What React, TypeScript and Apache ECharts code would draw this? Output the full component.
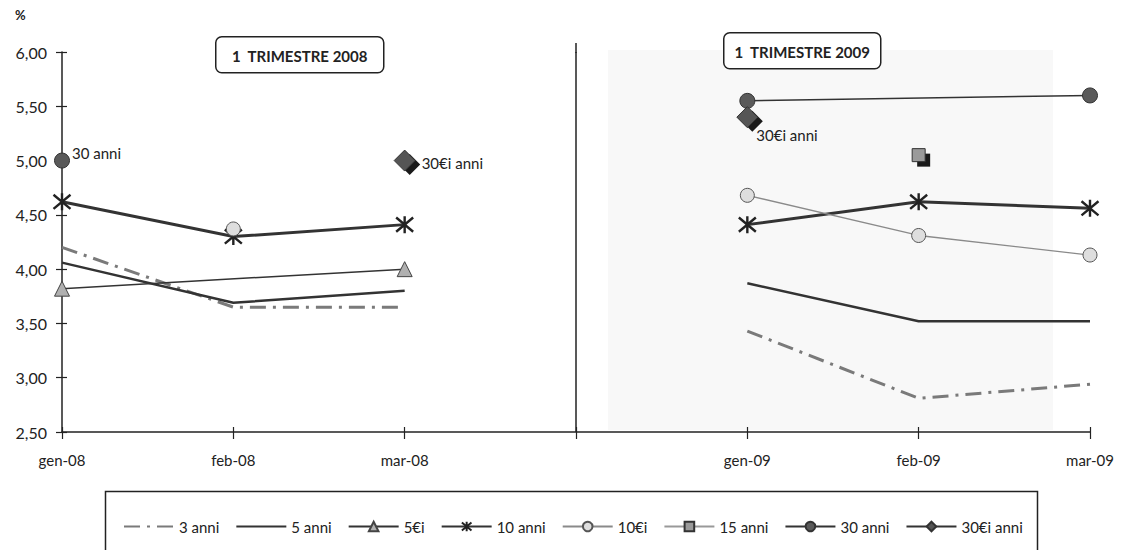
import React, { useEffect, useRef } from "react";
import * as echarts from "echarts";

const categories = ["gen-08", "feb-08", "mar-08", "", "gen-09", "feb-09", "mar-09"];
const yTicks = [2.5, 3, 3.5, 4, 4.5, 5, 5.5, 6];

const anni3_2008 = [4.2, 3.65, 3.65];
const anni3_2009 = [3.43, 2.81, 2.94];
const anni5_2008 = [4.06, 3.69, 3.8];
const anni5_2009 = [3.87, 3.52, 3.52];
const e5_2008 = [3.82, null, 4.0];
const e5_2009 = [null, null, null];
const anni10_2008 = [4.62, 4.3, 4.41];
const anni10_2009 = [4.41, 4.62, 4.56];
const e10_2008 = [null, 4.37, null];
const e10_2009 = [4.68, 4.31, 4.13];
const anni15_2008 = [null, null, null];
const anni15_2009 = [null, 5.05, null];
const anni30_2008 = [5.0, null, null];
const anni30_2009 = [5.55, null, 5.6];
const e30_2008 = [null, null, 5.0];
const e30_2009 = [5.4, null, null];

const legendNames = ["3 anni", "5 anni", "5€i", "10 anni", "10€i", "15 anni", "30 anni", "30€i anni"];

const FONT = "Lato, 'Open Sans', sans-serif";
const ASTERISK = "path://M0,0L10,10M10,0L0,10M5,-1L5,11";

function full(a: (number | null)[], b: (number | null)[]) {
  return [...a, null, ...b];
}
function only2008(a: (number | null)[]) {
  return [...a, null, null, null, null];
}
function only2009(b: (number | null)[]) {
  return [null, null, null, null, ...b];
}

export default function App() {
  const ref = useRef<HTMLDivElement>(null);
  useEffect(() => {
    if (!ref.current) return;
    const chart = echarts.init(ref.current, undefined, { renderer: "svg" });

    const mk = (name: string, data: any[], extra: any) => ({
      name,
      type: "line",
      data,
      connectNulls: true,
      z: 3,
      ...extra,
    });

    const s3 = {
      symbol: "circle",
      showSymbol: false,
      lineStyle: { color: "#7a7a7a", width: 3, type: [16, 7, 3, 7] },
      itemStyle: { color: "rgba(0,0,0,0)", borderWidth: 0 },
    };
    const s5 = {
      symbol: "circle",
      showSymbol: false,
      lineStyle: { color: "#333", width: 2.5 },
      itemStyle: { color: "rgba(0,0,0,0)", borderWidth: 0 },
    };
    const se5 = {
      symbol: "triangle",
      symbolSize: 15,
      lineStyle: { color: "#333", width: 1.5 },
      itemStyle: { color: "#b0b0b0", borderColor: "#444", borderWidth: 1 },
    };
    const s10 = {
      symbol: ASTERISK,
      symbolSize: 17,
      lineStyle: { color: "#333", width: 3 },
      itemStyle: { color: "#333", borderColor: "#222", borderWidth: 2.4 },
    };
    const se10 = {
      symbol: "circle",
      symbolSize: 14,
      lineStyle: { color: "#8a8a8a", width: 1.3 },
      itemStyle: { color: "#dedede", borderColor: "#555", borderWidth: 1 },
    };
    const s15 = {
      symbol: "rect",
      symbolSize: 13,
      z: 4,
      lineStyle: { color: "#999", width: 2.5 },
      itemStyle: { color: "#9a9a9a", borderColor: "#333", borderWidth: 1 },
    };
    const s30 = {
      symbol: "circle",
      symbolSize: 15,
      lineStyle: { color: "#333", width: 1.5 },
      itemStyle: { color: "#5a5a5a", borderColor: "#333", borderWidth: 1 },
    };
    const se30 = {
      symbol: "diamond",
      symbolSize: 21,
      z: 4,
      lineStyle: { color: "#333", width: 1.5 },
      itemStyle: { color: "#555", borderColor: "#333", borderWidth: 1 },
    };
    const shadow = (data: any[], size: number, symbol: string, off: number[]) => ({
      name: "ombra",
      type: "line",
      data,
      connectNulls: false,
      symbol,
      symbolSize: size,
      symbolOffset: off,
      showAllSymbol: true,
      z: 2,
      lineStyle: { width: 0, opacity: 0 },
      itemStyle: { color: "#1a1a1a" },
      silent: true,
    });

    const labelStyle = { fontFamily: FONT, fontSize: 15, color: "#222" };

    const anni30Data = only2008(anni30_2008).map((v, i) =>
      i === 0 && v !== null
        ? { value: v, label: { show: true, position: "right", distance: 2, offset: [0, -8], formatter: "30 anni", ...labelStyle } }
        : v
    );
    const e30Data2008 = only2008(e30_2008).map((v, i) =>
      i === 2 && v !== null
        ? { value: v, label: { show: true, position: "right", distance: 6, offset: [0, 2], formatter: "30€i anni", ...labelStyle } }
        : v
    );
    const e30Data2009 = only2009(e30_2009).map((v, i) =>
      i === 4 && v !== null
        ? { value: v, label: { show: true, position: "right", distance: 2, offset: [-4, 18], formatter: "30€i anni", ...labelStyle } }
        : v
    );

    const divider = {
      silent: true,
      symbol: ["none", "none"],
      label: { show: false },
      lineStyle: { color: "#222", width: 1.5, type: "solid" },
      data: [{ xAxis: 3 }],
    };

    const series: any[] = [
      { ...mk("3 anni", only2008(anni3_2008), s3), markLine: divider },
      mk("3 anni", only2009(anni3_2009), s3),
      mk("5 anni", only2008(anni5_2008), s5),
      mk("5 anni", only2009(anni5_2009), s5),
      mk("5€i", only2008(e5_2008), se5),
      mk("5€i", only2009(e5_2009), se5),
      mk("10 anni", only2008(anni10_2008), s10),
      mk("10 anni", only2009(anni10_2009), s10),
      mk("10€i", only2008(e10_2008), se10),
      mk("10€i", only2009(e10_2009), se10),
      shadow(full(anni15_2008, anni15_2009), 13, "rect", [5, 5]),
      mk("15 anni", only2008(anni15_2008), s15),
      mk("15 anni", only2009(anni15_2009), s15),
      mk("30 anni", anni30Data, s30),
      mk("30 anni", only2009(anni30_2009), s30),
      shadow(full(e30_2008, e30_2009), 21, "diamond", [5, 4]),
      mk("30€i anni", e30Data2008, se30),
      mk("30€i anni", e30Data2009, se30),
    ];

    const option: any = {
      animation: false,
      backgroundColor: "#ffffff",
      textStyle: { fontFamily: FONT },
      grid: { left: 62, right: 31, top: 52, bottom: 118, containLabel: false },
      legend: {
        data: legendNames,
        left: 118,
        top: 514,
        itemWidth: 50,
        itemHeight: 12,
        itemGap: 16,
        textStyle: { fontFamily: FONT, fontSize: 15, color: "#222" },
        selectedMode: false,
      },
      xAxis: [
        {
          type: "category",
          data: categories,
          boundaryGap: false,
          axisLine: { lineStyle: { color: "#222", width: 1.5 } },
          axisTick: { show: true, length: 7, lineStyle: { color: "#222", width: 1.2 }, interval: 0 },
          axisLabel: { fontFamily: FONT, fontSize: 15, color: "#222", margin: 20, interval: 0 },
          splitLine: { show: false },
        },
        {
          type: "category",
          data: categories,
          boundaryGap: false,
          position: "bottom",
          axisLine: { show: false },
          axisTick: { show: true, inside: true, length: 5, lineStyle: { color: "#222", width: 1.2 }, interval: 0 },
          axisLabel: { show: false },
          splitLine: { show: false },
        },
      ],
      yAxis: [
        {
          type: "value",
          min: yTicks[0],
          max: yTicks[yTicks.length - 1],
          interval: 0.5,
          axisLine: { show: true, lineStyle: { color: "#222", width: 1.5 } },
          axisTick: { show: true, length: 6, lineStyle: { color: "#222", width: 1.2 } },
          axisLabel: {
            fontFamily: FONT,
            fontSize: 16,
            color: "#222",
            margin: 15,
            formatter: (v: number) => v.toFixed(2).replace(".", ","),
          },
          splitLine: { show: false },
        },
        {
          type: "value",
          min: yTicks[0],
          max: yTicks[yTicks.length - 1],
          interval: 0.5,
          position: "left",
          axisLine: { show: false },
          axisTick: { show: true, inside: true, length: 5, lineStyle: { color: "#222", width: 1.2 } },
          axisLabel: { show: false },
          splitLine: { show: false },
        },
      ],
      graphic: [
        {
          type: "rect",
          z: -10,
          left: 608,
          top: 50,
          shape: { width: 445, height: 380 },
          style: { fill: "#f8f8f8" },
          silent: true,
        },
        {
          type: "line",
          shape: { x1: 576, y1: 43, x2: 576, y2: 53 },
          style: { stroke: "#222", lineWidth: 1.5 },
          silent: true,
        },
        {
          type: "text",
          left: 15,
          top: 8,
          style: { text: "%", font: `bold 13px ${FONT}`, fill: "#222" },
        },
        {
          type: "group",
          left: 215,
          top: 36,
          children: [
            {
              type: "rect",
              shape: { x: 0, y: 0, width: 168, height: 36, r: 6 },
              style: { fill: "#fff", stroke: "#222", lineWidth: 1.5 },
            },
            {
              type: "text",
              x: 84,
              y: 19,
              style: { text: "1  TRIMESTRE 2008", font: `bold 15px ${FONT}`, fill: "#222", align: "center", verticalAlign: "middle" },
            },
          ],
        },
        {
          type: "group",
          left: 723,
          top: 32,
          children: [
            {
              type: "rect",
              shape: { x: 0, y: 0, width: 157, height: 36, r: 6 },
              style: { fill: "#fff", stroke: "#222", lineWidth: 1.5 },
            },
            {
              type: "text",
              x: 78.5,
              y: 19,
              style: { text: "1  TRIMESTRE 2009", font: `bold 15px ${FONT}`, fill: "#222", align: "center", verticalAlign: "middle" },
            },
          ],
        },
        {
          type: "rect",
          left: 103,
          top: 489,
          shape: { width: 932, height: 80 },
          style: { fill: "none", stroke: "#222", lineWidth: 1.5 },
          silent: true,
        },
      ],
      series,
    };
    chart.setOption(option);
    return () => chart.dispose();
  }, []);
  return <div ref={ref} style={{ width: 1121, height: 550, position: "absolute", left: 0, top: 0 }} />;
}
